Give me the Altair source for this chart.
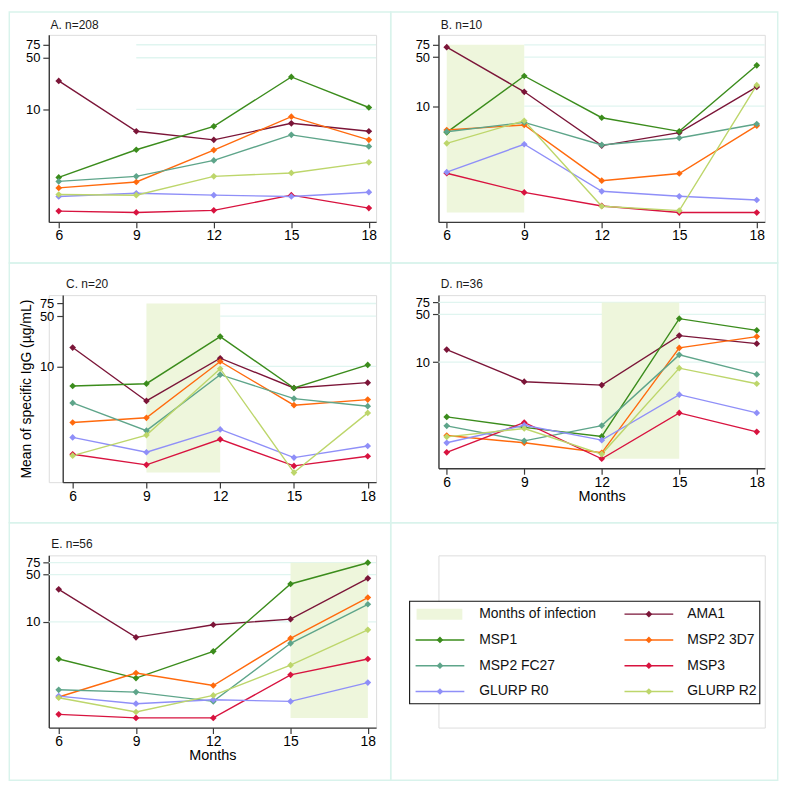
import altair as alt
import pandas as pd

# ---------------- data ----------------
months = [6, 9, 12, 15, 18]
series = ["AMA1", "MSP1", "MSP2 3D7", "MSP2 FC27", "MSP3", "GLURP R0", "GLURP R2"]
series_colors = ["#7b1538", "#3b8c1c", "#ff6a0d", "#5ea58a", "#d8133f", "#8f8ff8", "#bdd66b"]
legend_labels = ["Months of infection"] + series
y_ticks = [10, 50, 75]

panel_A = {
    "AMA1": [24.3, 5.06, 3.87, 6.48, 5.06],
    "MSP1": [1.20, 2.84, 5.9, 27.5, 10.6],
    "MSP2 3D7": [0.865, 1.04, 2.81, 7.97, 3.87],
    "MSP2 FC27": [1.06, 1.24, 2.04, 4.52, 3.15],
    "MSP3": [0.42, 0.403, 0.43, 0.69, 0.461],
    "GLURP R0": [0.662, 0.733, 0.69, 0.662, 0.757],
    "GLURP R2": [0.705, 0.69, 1.24, 1.38, 1.92],
}
panel_B = {
    "AMA1": [69.5, 16.0, 2.73, 4.18, 18.8],
    "MSP1": [4.22, 26.9, 6.82, 4.36, 38.2],
    "MSP2 3D7": [4.56, 5.37, 0.861, 1.09, 5.25],
    "MSP2 FC27": [4.31, 5.85, 2.79, 3.51, 5.55],
    "MSP3": [1.10, 0.586, 0.375, 0.302, 0.302],
    "GLURP R0": [1.14, 2.85, 0.607, 0.515, 0.456],
    "GLURP R2": [2.94, 6.18, 0.371, 0.322, 19.9],
}
panel_C = {
    "AMA1": [18.3, 3.31, 13.0, 5.01, 5.95],
    "MSP1": [5.34, 5.75, 26.0, 5.01, 10.5],
    "MSP2 3D7": [1.66, 1.93, 11.7, 2.89, 3.46],
    "MSP2 FC27": [3.11, 1.28, 7.68, 3.57, 2.80],
    "MSP3": [0.601, 0.428, 0.969, 0.414, 0.564],
    "GLURP R0": [1.03, 0.64, 1.33, 0.54, 0.782],
    "GLURP R2": [0.575, 1.11, 9.29, 0.334, 2.26],
}
panel_D = {
    "AMA1": [15.3, 5.18, 4.62, 24.5, 18.7],
    "MSP1": [1.58, 1.11, 0.818, 43.4, 29.3],
    "MSP2 3D7": [0.845, 0.66, 0.471, 16.2, 23.7],
    "MSP2 FC27": [1.17, 0.705, 1.18, 12.8, 6.62],
    "MSP3": [0.478, 1.31, 0.385, 1.81, 0.955],
    "GLURP R0": [0.66, 1.19, 0.722, 3.35, 1.81],
    "GLURP R2": [0.807, 1.07, 0.451, 8.18, 4.84],
}
panel_E = {
    "AMA1": [30.3, 5.89, 9.04, 10.96, 44.0],
    "MSP1": [2.82, 1.47, 3.66, 36.3, 75.0],
    "MSP2 3D7": [0.771, 1.75, 1.14, 5.70, 22.9],
    "MSP2 FC27": [0.986, 0.912, 0.664, 4.81, 18.2],
    "MSP3": [0.427, 0.378, 0.378, 1.64, 2.82],
    "GLURP R0": [0.796, 0.614, 0.703, 0.664, 1.26],
    "GLURP R2": [0.752, 0.463, 0.813, 2.28, 7.62],
}
panel_titles = ["A. n=208", "B. n=10", "C. n=20", "D. n=36", "E. n=56"]
infection_months = [None, [6, 9], [9, 12], [12, 15], [15, 18]]
y_title = "Mean of specific IgG (µg/mL)"
x_title = "Months"

# ---------------- style ----------------
FONT = "Liberation Sans"
SHADE = "#eef6dc"
GRID = "#e0f5f0"
FRAME = "#d9f3ec"
AXIS_C = "#3a3a3a"
FRAME_W = 1.5

color_scale = alt.Scale(domain=series, range=series_colors)

# plot origins on the page (col, row) for frames
COL_X = [49.3, 441.0]
ROW_Y = [32.7, 294.3, 555.9]


def frame_rel(col, row):
    x0 = 9.6 if col == 0 else 393.0
    x1 = 393.0 if col == 0 else 782.0
    y0 = [9.6, 262.0, 523.0][row]
    y1 = [262.0, 523.0, 782.0][row]
    ox, oy = COL_X[col], ROW_Y[row]
    return (x0 - ox, x1 - ox, y0 - oy, y1 - oy)


def long_df(values):
    rows = []
    for s in series:
        for m, v in zip(months, values[s]):
            rows.append({"month": m, "series": s, "value": v})
    return pd.DataFrame(rows)


def panel(values, title, shade, grid_from, xdom, ydom, w, h, title_xy, frame,
          xrange=None, ytitle=None, xtitle=None, yoffset=0):
    df = long_df(values)
    if xrange is None:
        xs = alt.Scale(domain=xdom, nice=False, zero=False)
    else:
        xs = alt.Scale(domain=xdom, range=xrange, nice=False, zero=False)
    ys = alt.Scale(type="log", domain=ydom, nice=False)
    xax = alt.Axis(values=months, grid=False, tickSize=6, labelPadding=1,
                   labelFontSize=14, labelFont=FONT, labelColor="#000",
                   labelFlush=False, labelOverlap=False,
                   domainColor=AXIS_C, tickColor=AXIS_C, domainWidth=1.4, tickWidth=1.2,
                   title=xtitle, titleFont=FONT, titleFontSize=14.5, titleFontWeight="normal",
                   titleColor="#000", titlePadding=0)
    yax = alt.Axis(values=y_ticks, grid=False, tickSize=6, labelPadding=3,
                   labelFontSize=13, labelFont=FONT, labelColor="#000",
                   labelOverlap=False, labelFlush=False,
                   labelExpr="format(datum.value, 'd')",
                   domainColor=AXIS_C, tickColor=AXIS_C, domainWidth=1.4, tickWidth=1.2,
                   offset=yoffset,
                   title=ytitle, titleFont=FONT, titleFontSize=14, titleFontWeight="normal",
                   titleColor="#000", titlePadding=6)

    def X(f):
        return alt.X(f, type="quantitative", scale=xs, axis=xax)

    def Y(f):
        return alt.Y(f, type="quantitative", scale=ys, axis=yax)

    fr = alt.Chart(pd.DataFrame({"k": [0]})).mark_rect(
        fillOpacity=0, stroke=FRAME, strokeWidth=FRAME_W).encode(
        x=alt.value(frame[0]), x2=alt.value(frame[1]),
        y=alt.value(frame[2]), y2=alt.value(frame[3]))

    gdf = pd.DataFrame({"start": [grid_from] * len(y_ticks),
                        "end": [xdom[1]] * len(y_ticks),
                        "level": y_ticks})
    grid = alt.Chart(gdf).mark_rule(color=GRID, strokeWidth=1.3).encode(
        x=X("start"), x2="end:Q", y=Y("level"))

    layers = [fr, grid]
    if shade is not None:
        low = min(min(v) for v in values.values())
        sdf = pd.DataFrame({"x0": [shade[0]], "x1": [shade[1]],
                            "y0": [low], "y1": [max(y_ticks)]})
        layers.append(alt.Chart(sdf).mark_rect(color=SHADE).encode(
            x=X("x0"), x2="x1:Q", y=Y("y0"), y2="y1:Q"))

    col = alt.Color("series:N", scale=color_scale, legend=None)
    lines = alt.Chart(df).mark_line(strokeWidth=1.4).encode(
        x=X("month"), y=Y("value"), color=col)
    pts = alt.Chart(df).mark_point(shape="diamond", filled=True, size=45, opacity=1).encode(
        x=X("month"), y=Y("value"), color=col)
    ttl = alt.Chart(pd.DataFrame({"t": [title]})).mark_text(
        align="left", baseline="middle", font=FONT, fontSize=12, color="#1a1a1a").encode(
        x=alt.value(title_xy[0]), y=alt.value(title_xy[1]), text="t:N")
    layers += [lines, pts, ttl]
    return alt.layer(*layers).properties(width=w, height=h)


pA = panel(panel_A, panel_titles[0], infection_months[0], 9, [5.615, 18.28], [0.30, 102],
           329, 188, (1.7, -10.4), frame_rel(0, 0))
pB = panel(panel_B, panel_titles[1], infection_months[1], 9, [5.68, 18.31], [0.222, 104],
           328, 188, (2.3, -9.7), frame_rel(1, 0))
pC = panel(panel_C, panel_titles[2], infection_months[2], 12, [5.595, 18.34], [0.246, 98],
           329, 188, (17.4, -11.0), frame_rel(0, 1), xrange=[14, 329], ytitle=y_title,
           yoffset=-14)
pD = panel(panel_D, panel_titles[3], infection_months[3], 5.68, [5.68, 18.31], [0.28, 96],
           328, 174, (2.3, -11.6), frame_rel(1, 1), xtitle=x_title)
pE = panel(panel_E, panel_titles[4], infection_months[4], 5.615, [5.615, 18.32], [0.272, 96.3],
           329, 173.1, (2.4, -11.6), frame_rel(0, 2), xtitle=x_title)

# ---------------- legend panel ----------------
ldf = pd.DataFrame({"label": legend_labels})
ldf["col"] = [i % 2 for i in range(len(legend_labels))]
ldf["row"] = [i // 2 for i in range(len(legend_labels))]
ldf["sx0"] = 6 + 210 * ldf["col"]
ldf["sx1"] = 55 + 210 * ldf["col"]
ldf["mx"] = 30.5 + 210 * ldf["col"]
ldf["lx"] = 70 + 209 * ldf["col"]
ldf["cy"] = 13 + 25.9 * ldf["row"]
ldf["ay0"] = ldf["cy"] - 5.5
ldf["ay1"] = ldf["cy"] + 5.5
ldf["ax0"] = ldf["sx0"] + 1
ldf["ax1"] = ldf["sx1"] - 2

lxs = alt.Scale(domain=[0, 352], range=[-29, 323], nice=False, zero=False)
lys = alt.Scale(domain=[0, 103], range=[46.1, 149.1], nice=False, zero=False)
series_rows = ldf[ldf["label"].isin(series)]
area_rows = ldf[~ldf["label"].isin(series)]

box = alt.Chart(pd.DataFrame({"bx0": [0], "bx1": [352], "by0": [0], "by1": [103]})).mark_rect(
    fill="white", stroke="#111", strokeWidth=1.1).encode(
    x=alt.X("bx0:Q", scale=lxs, axis=None), x2="bx1:Q",
    y=alt.Y("by0:Q", scale=lys, axis=None), y2="by1:Q")
area_sym = alt.Chart(area_rows).mark_rect(color=SHADE).encode(
    x=alt.X("ax0:Q", scale=lxs, axis=None), x2="ax1:Q",
    y=alt.Y("ay0:Q", scale=lys, axis=None), y2="ay1:Q")
lcol = alt.Color("label:N", scale=color_scale, legend=None)
line_sym = alt.Chart(series_rows).mark_rule(strokeWidth=1.4).encode(
    x=alt.X("sx0:Q", scale=lxs, axis=None), x2="sx1:Q",
    y=alt.Y("cy:Q", scale=lys, axis=None), color=lcol)
pt_sym = alt.Chart(series_rows).mark_point(shape="diamond", filled=True, size=45, opacity=1).encode(
    x=alt.X("mx:Q", scale=lxs, axis=None), y=alt.Y("cy:Q", scale=lys, axis=None), color=lcol)
txt = alt.Chart(ldf).mark_text(align="left", baseline="middle", font=FONT, fontSize=14,
                               color="#111").encode(
    x=alt.X("lx:Q", scale=lxs, axis=None), y=alt.Y("cy:Q", scale=lys, axis=None), text="label:N")
lf = frame_rel(1, 2)
lframe = alt.Chart(pd.DataFrame({"k": [0]})).mark_rect(
    fillOpacity=0, stroke=FRAME, strokeWidth=FRAME_W).encode(
    x=alt.value(lf[0]), x2=alt.value(lf[1]), y=alt.value(lf[2]), y2=alt.value(lf[3]))
leg = alt.layer(lframe, box, area_sym, line_sym, pt_sym, txt).properties(width=328, height=173.1)

chart = alt.concat(
    pA, pB, pC, pD, pE, leg,
    columns=2,
    spacing={"row": 73.6, "column": 62.7},
    bounds="flush",
    align="all",
).properties(padding=0).configure_view(strokeWidth=0).configure(font=FONT)

chart.save("out.html", embed_options={"renderer": "svg", "actions": False})
